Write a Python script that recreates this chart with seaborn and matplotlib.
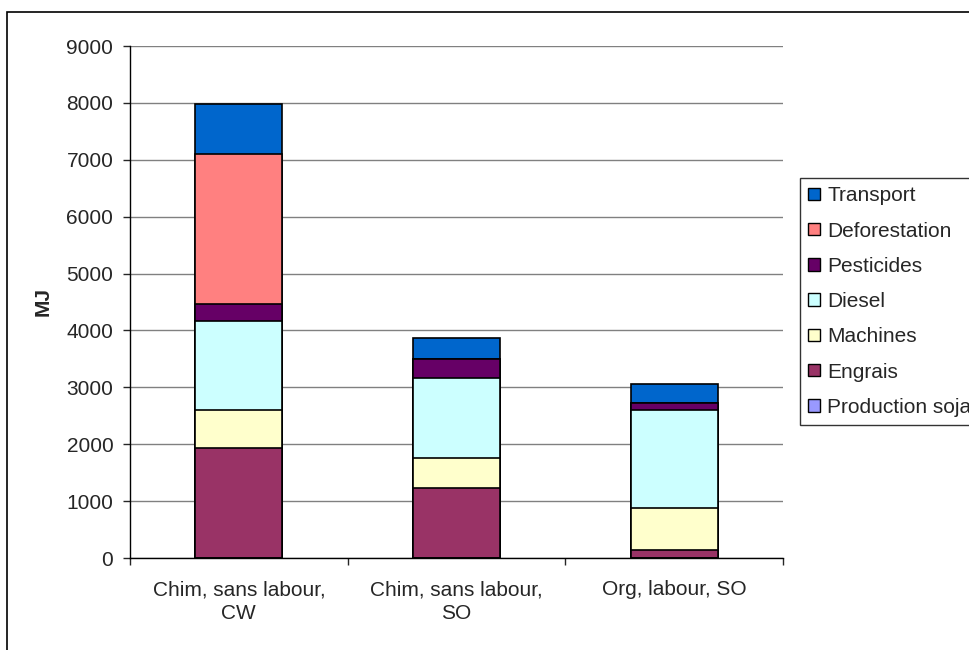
import numpy as np
import pandas as pd
import seaborn as sns
from matplotlib import pyplot as plt
from matplotlib.patches import Rectangle, Patch

# data (MJ)
categories = ['Chim, sans labour,\nCW', 'Chim, sans labour,\nSO', 'Org, labour, SO']
production_soja = [0, 0, 0]
engrais = [1930, 1225, 140]
machines = [670, 540, 735]
diesel = [1565, 1400, 1725]
pesticides = [295, 325, 125]
deforestation = [2640, 0, 0]
transport = [880, 385, 330]

series_names = ['Production soja', 'Engrais', 'Machines', 'Diesel',
                'Pesticides', 'Deforestation', 'Transport']
series_values = [production_soja, engrais, machines, diesel,
                 pesticides, deforestation, transport]
colors = ['#9999FF', '#993366', '#FFFFCC', '#CCFFFF',
          '#660066', '#FF8080', '#0066CC']

sns.set_style('white')
plt.rcParams['font.family'] = ['Liberation Sans', 'DejaVu Sans']

df = pd.DataFrame(dict(zip(series_names, series_values)), index=categories)
cum = df.cumsum(axis=1)

fig = plt.figure(figsize=(9.7, 6.5), dpi=100)
ax = fig.add_axes([130 / 970, 1 - 558 / 650, 653 / 970, 512 / 650])

# outer chart border (clipped at the right/bottom like the reference)
fig.patches.append(Rectangle((7 / 970, -0.1), 1.2, 1 - 12 / 650 + 0.1,
                             transform=fig.transFigure, fill=False,
                             edgecolor='black', linewidth=1.2))

# stacked bars: draw cumulative totals from the top segment down
for name, color in reversed(list(zip(series_names, colors))):
    d = pd.DataFrame({'cat': categories, 'val': cum[name].values})
    sns.barplot(data=d, x='cat', y='val', color=color, width=0.4,
                edgecolor='black', linewidth=1.2, saturation=1, ax=ax,
                zorder=3)

ax.set_ylim(0, 9000)
ax.set_xlim(-0.5, 2.5)
ax.set_yticks(np.arange(0, 9001, 1000))
ax.yaxis.grid(True, color='#808080', linewidth=1, zorder=0)
ax.set_axisbelow(True)
ax.tick_params(axis='y', labelsize=15, length=5, width=1, direction='out',
               left=True, pad=7)
ax.tick_params(axis='x', which='major', labelsize=15, length=0, pad=16)
for lbl in ax.get_xticklabels():
    lbl.set_linespacing(1.35)
ax.set_xticks([-0.5, 0.5, 1.5, 2.5], minor=True)
ax.tick_params(axis='x', which='minor', length=5, width=1, bottom=True)
ax.set_xlabel('')
ax.set_ylabel('MJ', fontsize=15, fontweight='bold', labelpad=10)
for s in ['top', 'right']:
    ax.spines[s].set_visible(False)
for s in ['left', 'bottom']:
    ax.spines[s].set_color('black')
    ax.spines[s].set_linewidth(1)

handles = [Patch(facecolor=c, edgecolor='black', linewidth=1, label=n)
           for n, c in reversed(list(zip(series_names, colors)))]
leg = ax.legend(handles=handles, loc='upper left',
                bbox_to_anchor=(800 / 970, 1 - 178 / 650),
                bbox_transform=fig.transFigure, frameon=True, fancybox=False,
                edgecolor='black', fontsize=15, handlelength=0.55,
                handleheight=0.55, handletextpad=0.35, labelspacing=0.78,
                borderpad=0.4, borderaxespad=0)
leg.get_frame().set_linewidth(1)

fig.savefig('out.png', dpi=100)
